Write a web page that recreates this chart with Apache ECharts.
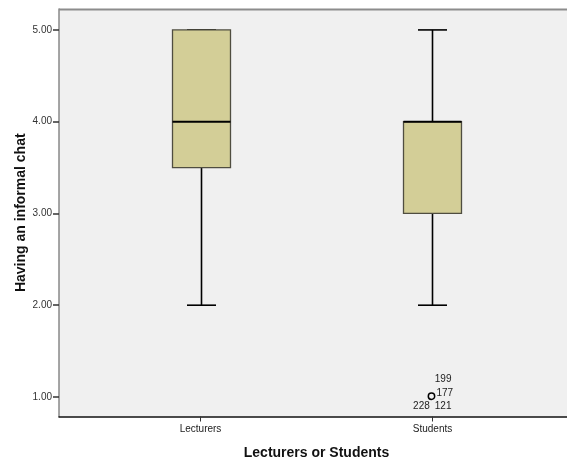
<!DOCTYPE html>
<html>
<head>
<meta charset="utf-8">
<script src="https://cdn.jsdelivr.net/npm/echarts@6/dist/echarts.min.js"></script>
<style>
  html, body { margin: 0; padding: 0; background: #ffffff; }
  #chart { width: 567px; height: 461px; }
</style>
</head>
<body>
<div id="chart"></div>
<script>
// Group names on the x axis
const categories = ['Lecturers', 'Students'];
// Five-number summaries per group: [min whisker, Q1, median, Q3, max whisker]
const lowerWhisker = [2, 2];
const quartile1 = [3.5, 3];
const medians = [4, 4];
const quartile3 = [5, 4];
const upperWhisker = [5, 5];
// Outlying cases: group index, value, case numbers printed next to the marker
const outlierGroup = [1];
const outlierValue = [1];
const outlierCases = [['199', '177', '228', '121']];
// Y tick values
const yTicks = [1, 2, 3, 4, 5];

const boxData = categories.map((c, i) => [i + 1, lowerWhisker[i], quartile1[i], medians[i], quartile3[i], upperWhisker[i]]);
const outlierData = outlierGroup.map((g, i) => [g + 1, outlierValue[i], i]);

const BOX_W = 0.25;      // box width in x units
const CAP_W = 0.125;     // whisker cap width in x units
const FONT = '"Liberation Sans", Arial, sans-serif';

function renderBox(params, api) {
  const x = api.value(0);
  const pMin = api.coord([x, api.value(1)]);
  const pQ1 = api.coord([x, api.value(2)]);
  const pMed = api.coord([x, api.value(3)]);
  const pQ3 = api.coord([x, api.value(4)]);
  const pMax = api.coord([x, api.value(5)]);
  const bw = api.size([BOX_W, 0])[0];
  const cw = api.size([CAP_W, 0])[0];
  const cx = Math.round(pMed[0]) + 0.5;
  const line = (x1, y1, x2, y2, w) => ({
    type: 'line',
    shape: { x1, y1, x2, y2 },
    style: { stroke: '#000', lineWidth: w }
  });
  return {
    type: 'group',
    children: [
      line(cx, pQ1[1], cx, pMin[1], 1.6),
      line(cx, pQ3[1], cx, pMax[1], 1.6),
      line(cx - cw / 2, pMin[1], cx + cw / 2, pMin[1], 1.6),
      line(cx - cw / 2, pMax[1], cx + cw / 2, pMax[1], 1.6),
      {
        type: 'rect',
        shape: { x: cx - bw / 2, y: pQ3[1], width: bw, height: pQ1[1] - pQ3[1] },
        style: { fill: '#d3ce97', stroke: '#4f4d40', lineWidth: 1.3 }
      },
      line(cx - bw / 2, pMed[1], cx + bw / 2, pMed[1], 2)
    ]
  };
}

function renderOutlier(params, api) {
  const p = api.coord([api.value(0), api.value(1)]);
  const ids = outlierCases[api.value(2)];
  const x = p[0] - 1, y = p[1] - 0.7;
  const txt = (t, dx, dy, align) => ({
    type: 'text',
    x: x + dx, y: y + dy,
    style: {
      text: t, fill: '#222', font: '10px ' + FONT,
      align: align, verticalAlign: 'middle'
    }
  });
  return {
    type: 'group',
    children: [
      { type: 'circle', shape: { cx: x, cy: y, r: 3.2 },
        style: { fill: 'none', stroke: '#000', lineWidth: 1.5 } },
      txt(ids[0], 3.3, -17, 'left'),
      txt(ids[1], 5, -3.3, 'left'),
      txt(ids[2], -1.7, 10, 'right'),
      txt(ids[3], 3.3, 10, 'left')
    ]
  };
}

const chart = echarts.init(document.getElementById('chart'), null, { renderer: 'canvas' });
chart.setOption({
  animation: false,
  backgroundColor: '#ffffff',
  textStyle: { fontFamily: FONT },
  grid: {
    left: 59, top: 9, right: -7, bottom: 44.5,
    outerBoundsMode: 'none',
    containLabel: false,
    show: true, backgroundColor: '#f0f0f0', borderWidth: 0
  },
  xAxis: {
    type: 'value',
    min: 0.39, max: 2.61,
    name: 'Lecturers or Students',
    nameLocation: 'middle',
    nameGap: 30,
    nameTextStyle: { fontSize: 14, fontWeight: 'bold', color: '#111' },
    axisLine: { show: true, onZero: false, lineStyle: { color: '#111', width: 1.5 } },
    axisTick: { show: true, customValues: [1, 2], length: 5, lineStyle: { color: '#333', width: 1 } },
    axisLabel: {
      customValues: [1, 2], fontSize: 10, color: '#222', margin: 8,
      formatter: v => categories[Math.round(v) - 1]
    },
    splitLine: { show: false }
  },
  yAxis: {
    type: 'value',
    min: 0.787, max: 5.228,
    name: 'Having an informal chat',
    nameLocation: 'middle',
    nameGap: 31,
    nameMoveOverlap: false,
    nameTextStyle: { fontSize: 14, fontWeight: 'bold', color: '#111' },
    axisLine: { show: true, lineStyle: { color: '#888', width: 1.5 } },
    axisTick: { show: true, customValues: yTicks, length: 6, lineStyle: { color: '#333', width: 1.5 } },
    axisLabel: {
      customValues: yTicks, fontSize: 10, color: '#333', margin: 7,
      formatter: v => v.toFixed(2)
    },
    splitLine: { show: false }
  },
  graphic: [{
    type: 'line', shape: { x1: 59, y1: 9.5, x2: 567, y2: 9.5 },
    style: { stroke: '#8c8c8c', lineWidth: 2 }, z: 10
  }],
  series: [
    { type: 'custom', renderItem: renderBox, data: boxData, encode: { x: 0, y: [1, 2, 3, 4, 5] }, clip: false },
    { type: 'custom', renderItem: renderOutlier, data: outlierData, encode: { x: 0, y: 1 } }
  ]
});
</script>
</body>
</html>
